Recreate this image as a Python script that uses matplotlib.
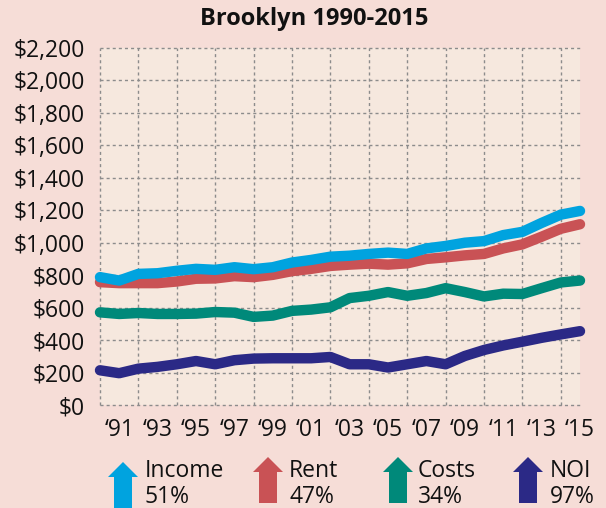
import matplotlib
matplotlib.use("Agg")
import matplotlib.pyplot as plt
from matplotlib.patches import Polygon
from matplotlib.ticker import FuncFormatter, MultipleLocator

years = list(range(1990, 2016))
income = [788, 767, 808, 812, 827, 839, 833, 849, 837, 849, 878, 894, 914, 920, 931, 939,
          931, 965, 980, 1000, 1010, 1047, 1067, 1122, 1173, 1196]
rent = [757, 751, 751, 751, 761, 778, 780, 794, 788, 802, 825, 839, 857, 865, 871, 865,
        873, 900, 910, 922, 931, 965, 990, 1037, 1086, 1114]
costs = [571, 561, 567, 561, 561, 563, 573, 569, 543, 551, 580, 588, 602, 659, 673, 696,
         673, 690, 720, 696, 669, 686, 684, 720, 755, 767]
noi = [214, 196, 224, 235, 251, 271, 251, 276, 286, 288, 288, 288, 296, 251, 251, 231,
       251, 271, 251, 302, 339, 367, 390, 414, 435, 455]
series_names = ["Income", "Rent", "Costs", "NOI"]
series_changes = ["51%", "47%", "34%", "97%"]
xtick_years = list(range(1991, 2016, 2))
title = "Brooklyn 1990-2015"

colors = {"Income": "#00A3DF", "Rent": "#C95255", "Costs": "#00897A", "NOI": "#2B2986"}
FONT = ["Open Sans", "DejaVu Sans"]
plt.rcParams["font.family"] = FONT

W, H = 606, 508
fig = plt.figure(figsize=(W / 100, H / 100), dpi=100)
fig.patch.set_facecolor("#F6DDD7")

L, R, T, B = 100, 580, 48, 405
ax = fig.add_axes([L / W, 1 - B / H, (R - L) / W, (B - T) / H])
ax.set_facecolor("#F6E8DE")

data = {"Income": income, "Rent": rent, "Costs": costs, "NOI": noi}
for name in ["NOI", "Costs", "Rent", "Income"]:
    ax.plot(years, data[name], color=colors[name], lw=7.5, solid_capstyle="round",
            solid_joinstyle="round", clip_on=False, zorder=3)

ax.set_xlim(1990, 2015)
ax.set_ylim(0, 2200)
ax.yaxis.set_major_locator(MultipleLocator(200))
ax.yaxis.set_major_formatter(FuncFormatter(lambda v, p: "${:,.0f}".format(v)))
ax.set_xticks(xtick_years)
ax.set_xticklabels(["\u2018" + str(y)[2:] for y in xtick_years])
ax.set_xticks(years, minor=True)
ax.tick_params(axis="both", which="both", length=0, labelsize=16.5, colors="#111111")
ax.tick_params(axis="y", pad=11)
ax.tick_params(axis="x", pad=9)
ax.grid(True, which="minor", axis="x", color="#8C8C8C", lw=1.0, ls=(0, (2.2, 2.2)))
ax.grid(True, which="major", axis="y", color="#8C8C8C", lw=1.0, ls=(0, (2.2, 2.2)))
ax.grid(False, which="major", axis="x")
for t in ax.xaxis.get_minor_ticks() + ax.yaxis.get_major_ticks():
    t.gridline.set_clip_on(False)
for s in ax.spines.values():
    s.set_visible(False)
ax.set_axisbelow(True)

fig.text(314 / W, 1 - 19 / H, title, ha="center", va="center", fontsize=17,
         fontweight="bold", color="#111111")

# legend with arrows
arrow_left = [108, 253, 383, 513]
arrow_tip = [462, 457, 457, 457]
arrow_bottom = [510, 503, 503, 503]
text_left = [145, 289, 418, 550]
for i, name in enumerate(series_names):
    x0 = arrow_left[i]
    hw, sw = 30, 18
    xc = x0 + hw / 2
    tip, base, bot = arrow_tip[i], arrow_tip[i] + 15, arrow_bottom[i]
    pts = [(xc, tip), (x0 + hw, base), (xc + sw / 2, base), (xc + sw / 2, bot),
           (xc - sw / 2, bot), (xc - sw / 2, base), (x0, base)]
    pts = [(px / W, 1 - py / H) for px, py in pts]
    fig.patches.append(Polygon(pts, closed=True, transform=fig.transFigure,
                               facecolor=colors[name], edgecolor="none"))
    fig.text(text_left[i] / W, 1 - 477 / H, name, ha="left", va="baseline",
             fontsize=16.5, color="#111111")
    fig.text(text_left[i] / W, 1 - 503 / H, series_changes[i], ha="left",
             va="baseline", fontsize=16.5, color="#111111")

fig.savefig("out.png", dpi=100, facecolor=fig.get_facecolor())
